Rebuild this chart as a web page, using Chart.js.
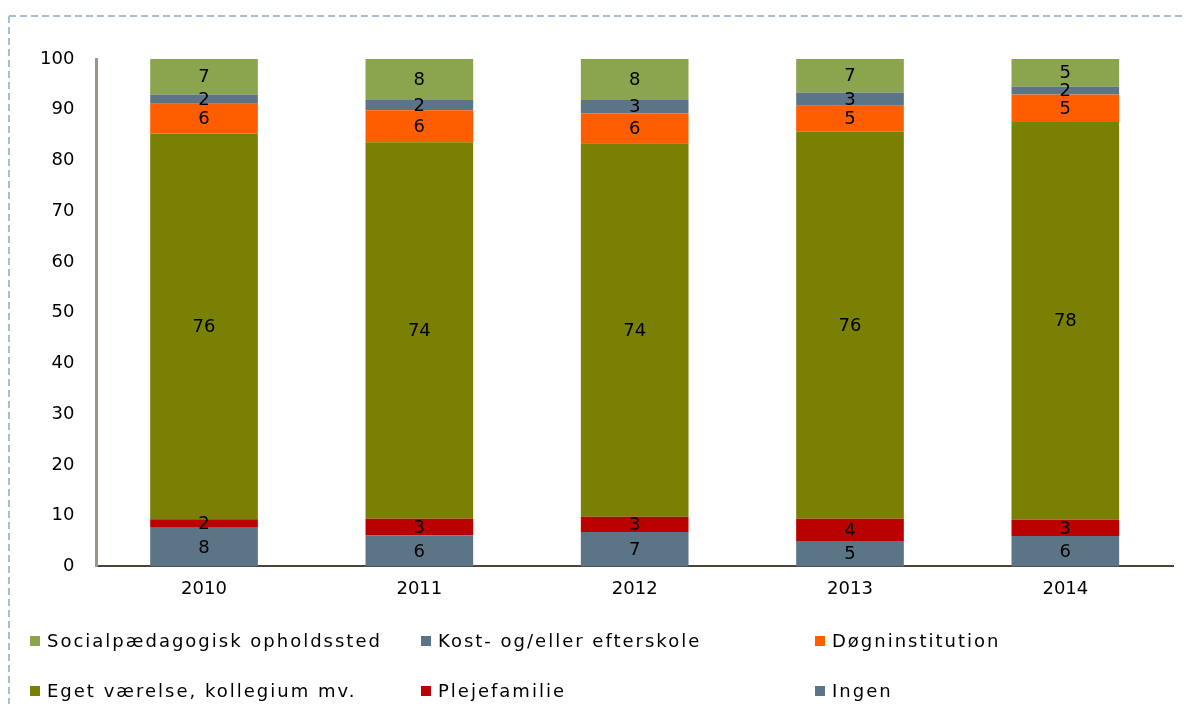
<!DOCTYPE html>
<html>
<head>
<meta charset="utf-8">
<script src="https://cdn.jsdelivr.net/npm/chart.js@4.4.0/dist/chart.umd.min.js"></script>
<style>
  html, body { margin: 0; padding: 0; background: #fff; font-family: "DejaVu Sans", Verdana, sans-serif; overflow: hidden; }
  #wrap { position: relative; width: 1186px; height: 704px; overflow: hidden; }
  #frame { position: absolute; left: 0; top: 0; }
  #chartBox { position: absolute; left: 0; top: 0; width: 1180px; height: 615px; }
  #legend { position: absolute; left: 0; top: 0; width: 1186px; height: 704px; }
  .item { position: absolute; font-size: 18px; letter-spacing: 2px; color: #000; white-space: nowrap; }
  .item span.box { display: inline-block; width: 10px; height: 10px; margin-right: 7px; vertical-align: 1px; }
</style>
</head>
<body>
<div id="wrap">
  <svg id="frame" width="1186" height="704">
    <line x1="9" y1="16" x2="1186" y2="16" stroke="#a9bdd3" stroke-width="2" stroke-dasharray="7,4"/>
    <line x1="9" y1="16" x2="9" y2="704" stroke="#a9bdd3" stroke-width="2" stroke-dasharray="7,4"/>
  </svg>
  <div id="chartBox"><canvas id="chart"></canvas></div>
  <div id="legend"></div>
</div>
<script>
// categories and series (percent), stacked from bottom to top
const years = ['2010', '2011', '2012', '2013', '2014'];
const ingen = [7.6, 6.1, 6.8, 5.0, 6.0];
const plejefamilie = [1.7, 3.3, 3.0, 4.4, 3.2];
const egetVaerelse = [76.0, 74.2, 73.6, 76.3, 78.4];
const doegninstitution = [5.9, 6.3, 5.9, 5.1, 5.4];
const kostEfterskole = [1.8, 2.0, 2.6, 2.6, 1.6];
const socialpaedagogisk = [7.0, 8.1, 8.1, 6.6, 5.4];
const yTicks = [0, 10, 20, 30, 40, 50, 60, 70, 80, 90, 100];

const datasets = [
  { label: 'Ingen', data: ingen, backgroundColor: '#5b7586' },
  { label: 'Plejefamilie', data: plejefamilie, backgroundColor: '#bb0000' },
  { label: 'Eget værelse, kollegium mv.', data: egetVaerelse, backgroundColor: '#7a8004' },
  { label: 'Døgninstitution', data: doegninstitution, backgroundColor: '#ff5e00' },
  { label: 'Kost- og/eller efterskole', data: kostEfterskole, backgroundColor: '#5b7586' },
  { label: 'Socialpædagogisk opholdssted', data: socialpaedagogisk, backgroundColor: '#8ba54e' }
];
datasets.forEach(d => { d.borderWidth = 0; d.barPercentage = 0.5; d.categoryPercentage = 1.0; });

// segment labels, centred in each piece
const segmentLabels = {
  id: 'segmentLabels',
  afterDatasetsDraw(chart) {
    const ctx = chart.ctx;
    ctx.save();
    ctx.font = '18px "DejaVu Sans"';
    ctx.fillStyle = '#000';
    ctx.textAlign = 'center';
    ctx.textBaseline = 'middle';
    chart.data.datasets.forEach((ds, i) => {
      chart.getDatasetMeta(i).data.forEach((bar, j) => {
        const v = Math.round(ds.data[j]);
        ctx.fillText(String(v), bar.x, (bar.y + bar.base) / 2 + 1);
      });
    });
    ctx.restore();
  }
};

new Chart(document.getElementById('chart'), {
  type: 'bar',
  data: { labels: years, datasets: datasets },
  plugins: [segmentLabels],
  options: {
    responsive: true,
    maintainAspectRatio: false,
    animation: false,
    layout: { padding: { left: 18, right: 7, top: 59, bottom: 3 } },
    plugins: { legend: { display: false }, tooltip: { enabled: false } },
    scales: {
      x: {
        stacked: true,
        grid: { display: false, drawTicks: false },
        border: { display: true, color: '#4d4438', width: 2 },
        ticks: { color: '#000', font: { family: 'DejaVu Sans', size: 18 }, padding: 12 }
      },
      y: {
        stacked: true,
        min: 0,
        max: 100,
        afterBuildTicks: axis => { axis.ticks = yTicks.map(v => ({ value: v })); },
        grid: { display: false, drawTicks: false },
        border: { display: true, color: '#9b958b', width: 3 },
        ticks: { color: '#000', font: { family: 'DejaVu Sans', size: 18 }, padding: 22 }
      }
    }
  }
});

// legend in three columns, two rows (reverse of stack order)
const legendPos = [[30, 630], [421, 630], [815, 630], [30, 680], [421, 680], [815, 680]];
const legendEl = document.getElementById('legend');
datasets.slice().reverse().forEach((d, i) => {
  const div = document.createElement('div');
  div.className = 'item';
  div.style.left = legendPos[i][0] + 'px';
  div.style.top = legendPos[i][1] + 'px';
  div.innerHTML = '<span class="box" style="background:' + d.backgroundColor + '"></span>' + d.label;
  legendEl.appendChild(div);
});
</script>
</body>
</html>
